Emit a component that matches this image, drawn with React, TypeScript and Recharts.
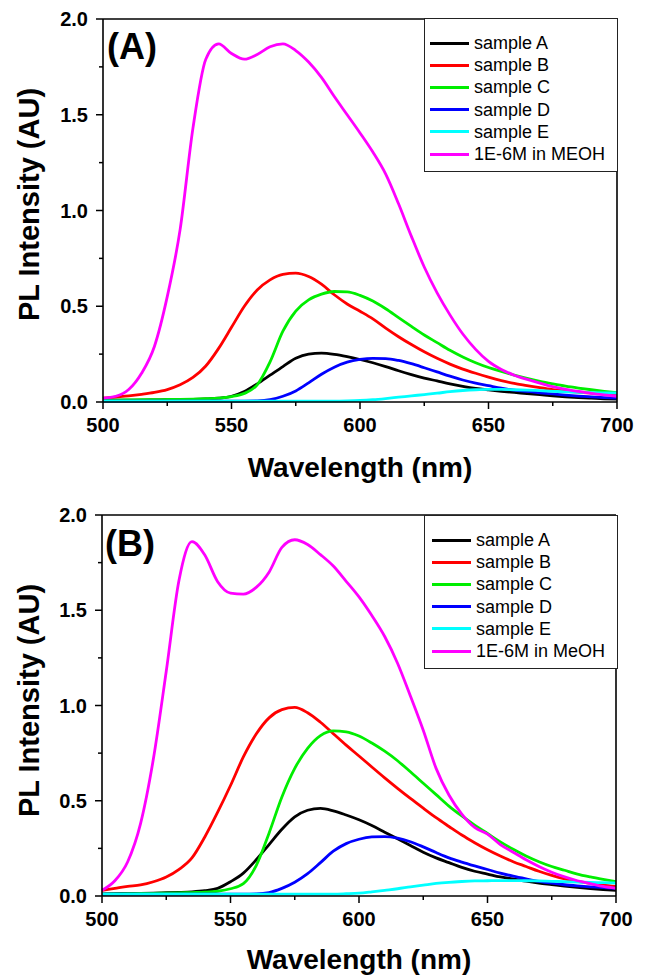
import React from 'react';
import { LineChart, Line, XAxis, YAxis, Legend } from 'recharts';

const FONT = '"Liberation Sans", Arial, Helvetica, sans-serif';
const TICK = 7;
const MINOR = 4;
const GAP = 8;

// wavelength grid (nm)
const wavelengths = [500, 505, 510, 515, 520, 525, 530, 535, 540, 545, 550, 555, 560, 565, 570, 575, 580, 585, 590, 595, 600, 605, 610, 615, 620, 625, 630, 635, 640, 645, 650, 655, 660, 665, 670, 675, 680, 685, 690, 695, 700];

// panel (A)
const aSampleA = [0.01, 0.01, 0.01, 0.01, 0.011, 0.012, 0.013, 0.014, 0.016, 0.02, 0.03, 0.055, 0.095, 0.14, 0.185, 0.228, 0.25, 0.255, 0.249, 0.237, 0.222, 0.205, 0.185, 0.163, 0.143, 0.125, 0.11, 0.095, 0.082, 0.071, 0.063, 0.056, 0.05, 0.044, 0.038, 0.032, 0.027, 0.023, 0.02, 0.017, 0.015];
const aSampleB = [0.02, 0.026, 0.032, 0.04, 0.05, 0.065, 0.09, 0.128, 0.188, 0.28, 0.39, 0.5, 0.585, 0.638, 0.667, 0.673, 0.655, 0.615, 0.56, 0.512, 0.474, 0.434, 0.386, 0.341, 0.3, 0.262, 0.228, 0.198, 0.172, 0.15, 0.13, 0.112, 0.097, 0.086, 0.075, 0.065, 0.057, 0.051, 0.046, 0.041, 0.037];
const aSampleC = [0.01, 0.01, 0.011, 0.012, 0.012, 0.013, 0.014, 0.015, 0.017, 0.02, 0.028, 0.045, 0.09, 0.21, 0.37, 0.475, 0.533, 0.563, 0.577, 0.575, 0.557, 0.527, 0.487, 0.441, 0.395, 0.35, 0.31, 0.27, 0.235, 0.205, 0.18, 0.16, 0.14, 0.123, 0.108, 0.095, 0.083, 0.073, 0.064, 0.056, 0.049];
const aSampleD = [0.005, 0.005, 0.005, 0.005, 0.005, 0.005, 0.005, 0.005, 0.005, 0.005, 0.005, 0.005, 0.006, 0.012, 0.03, 0.058, 0.1, 0.145, 0.182, 0.208, 0.222, 0.228, 0.227, 0.217, 0.2, 0.179, 0.157, 0.135, 0.115, 0.098, 0.085, 0.072, 0.062, 0.055, 0.048, 0.042, 0.036, 0.031, 0.027, 0.023, 0.02];
const aSampleE = [0.005, 0.005, 0.005, 0.005, 0.005, 0.005, 0.005, 0.005, 0.005, 0.005, 0.005, 0.005, 0.005, 0.005, 0.005, 0.005, 0.005, 0.005, 0.005, 0.006, 0.008, 0.012, 0.018, 0.025, 0.032, 0.039, 0.046, 0.054, 0.06, 0.064, 0.066, 0.066, 0.064, 0.062, 0.059, 0.056, 0.053, 0.051, 0.049, 0.048, 0.047];
const aMeoh = [0.02, 0.03, 0.065, 0.15, 0.29, 0.55, 0.9, 1.43, 1.79, 1.87, 1.82, 1.79, 1.815, 1.855, 1.87, 1.835, 1.775, 1.695, 1.595, 1.5, 1.405, 1.305, 1.19, 1.035, 0.865, 0.705, 0.57, 0.455, 0.355, 0.275, 0.212, 0.17, 0.14, 0.118, 0.099, 0.08, 0.066, 0.055, 0.045, 0.037, 0.03];

// panel (B)
const bSampleA = [0.01, 0.012, 0.013, 0.014, 0.015, 0.017, 0.019, 0.022, 0.028, 0.04, 0.075, 0.12, 0.19, 0.27, 0.35, 0.415, 0.45, 0.46, 0.447, 0.425, 0.4, 0.37, 0.335, 0.3, 0.265, 0.23, 0.2, 0.175, 0.15, 0.13, 0.115, 0.1, 0.09, 0.078, 0.068, 0.06, 0.052, 0.045, 0.039, 0.034, 0.03];
const bSampleB = [0.03, 0.04, 0.05, 0.058, 0.075, 0.1, 0.14, 0.2, 0.31, 0.44, 0.58, 0.73, 0.85, 0.935, 0.978, 0.99, 0.962, 0.912, 0.852, 0.792, 0.735, 0.677, 0.62, 0.565, 0.512, 0.461, 0.411, 0.365, 0.32, 0.28, 0.243, 0.21, 0.18, 0.155, 0.13, 0.108, 0.09, 0.077, 0.066, 0.057, 0.05];
const bSampleC = [0.01, 0.011, 0.012, 0.013, 0.014, 0.015, 0.016, 0.018, 0.02, 0.025, 0.038, 0.065, 0.16, 0.33, 0.52, 0.67, 0.775, 0.842, 0.867, 0.862, 0.84, 0.803, 0.76, 0.71, 0.652, 0.592, 0.532, 0.472, 0.42, 0.372, 0.328, 0.284, 0.245, 0.21, 0.18, 0.155, 0.135, 0.115, 0.1, 0.087, 0.075];
const bSampleD = [0.01, 0.01, 0.01, 0.01, 0.01, 0.01, 0.01, 0.01, 0.01, 0.01, 0.01, 0.01, 0.011, 0.018, 0.04, 0.072, 0.117, 0.175, 0.235, 0.275, 0.298, 0.31, 0.312, 0.304, 0.285, 0.258, 0.228, 0.2, 0.178, 0.158, 0.139, 0.12, 0.104, 0.09, 0.077, 0.067, 0.059, 0.053, 0.048, 0.044, 0.04];
const bSampleE = [0.01, 0.01, 0.01, 0.01, 0.01, 0.01, 0.01, 0.01, 0.01, 0.01, 0.01, 0.01, 0.01, 0.01, 0.01, 0.01, 0.01, 0.01, 0.01, 0.012, 0.015, 0.022, 0.03, 0.038, 0.048, 0.057, 0.066, 0.072, 0.076, 0.079, 0.08, 0.081, 0.081, 0.08, 0.079, 0.077, 0.075, 0.073, 0.071, 0.07, 0.068];
const bMeoh = [0.03, 0.08, 0.18, 0.38, 0.72, 1.18, 1.66, 1.86, 1.79, 1.65, 1.59, 1.585, 1.62, 1.7, 1.83, 1.87, 1.845, 1.792, 1.732, 1.652, 1.57, 1.472, 1.362, 1.222, 1.05, 0.87, 0.67, 0.53, 0.43, 0.36, 0.325, 0.27, 0.23, 0.19, 0.155, 0.125, 0.1, 0.08, 0.065, 0.05, 0.04];

const seriesKeys = ['sA', 'sB', 'sC', 'sD', 'sE', 'meoh'];
const seriesColors = ['#000000', '#ff0000', '#00ee00', '#0000ff', '#00ffff', '#ff00ff'];
const namesA = ['sample A', 'sample B', 'sample C', 'sample D', 'sample E', '1E-6M in MEOH'];
const namesB = ['sample A', 'sample B', 'sample C', 'sample D', 'sample E', '1E-6M in MeOH'];

const xTicks = [500, 525, 550, 575, 600, 625, 650, 675, 700];
const yTicks = [0, 0.25, 0.5, 0.75, 1, 1.25, 1.5, 1.75, 2];

const buildRows = (cols: number[][]) =>
  wavelengths.map((wl, i) => {
    const row: Record<string, number> = { wl };
    seriesKeys.forEach((k, j) => { row[k] = cols[j][i]; });
    return row;
  });

const dataA = buildRows([aSampleA, aSampleB, aSampleC, aSampleD, aSampleE, aMeoh]);
const dataB = buildRows([bSampleA, bSampleB, bSampleC, bSampleD, bSampleE, bMeoh]);

const XTick = (p: any) => {
  const { x, y, payload } = p;
  const v = payload.value;
  const major = v % 50 === 0;
  const ay = y - TICK - GAP;
  return (
    <g>
      <line x1={x} x2={x} y1={ay} y2={ay + (major ? TICK : MINOR)} stroke="#000" strokeWidth={1.5} />
      {major && (
        <text x={x} y={y + 15} textAnchor="middle" fontFamily={FONT} fontWeight="bold" fontSize={20} fill="#000">
          {v}
        </text>
      )}
    </g>
  );
};

const YTick = (p: any) => {
  const { x, y, payload } = p;
  const v = payload.value;
  const major = Math.abs(v * 2 - Math.round(v * 2)) < 1e-6;
  const ax = x + TICK + GAP;
  return (
    <g>
      <line x1={ax - (major ? TICK : MINOR)} x2={ax} y1={y} y2={y} stroke="#000" strokeWidth={1.5} />
      {major && (
        <text x={x} y={y + 7} textAnchor="end" fontFamily={FONT} fontWeight="bold" fontSize={20} fill="#000">
          {v.toFixed(1)}
        </text>
      )}
    </g>
  );
};

const XTitle = (p: any) => {
  const { viewBox, base } = p;
  return (
    <text x={viewBox.x + viewBox.width / 2} y={viewBox.y + base} textAnchor="middle" fontFamily={FONT} fontWeight="bold" fontSize={28} fill="#000">
      Wavelength (nm)
    </text>
  );
};

const YTitle = (p: any) => {
  const { viewBox, shift } = p;
  const cx = viewBox.x + 29;
  const cy = viewBox.y + viewBox.height / 2 + shift;
  return (
    <text x={cx} y={cy} transform={`rotate(-90 ${cx} ${cy})`} textAnchor="middle" dominantBaseline="central" fontFamily={FONT} fontWeight="bold" fontSize={29} fill="#000">
      PL Intensity (AU)
    </text>
  );
};

const LegendBox = (p: any) => {
  const { payload = [], names, padLeft } = p;
  const items = [...payload].sort((a: any, b: any) => names.indexOf(a.value) - names.indexOf(b.value));
  return (
    <div style={{ width: 194, height: 154, boxSizing: 'border-box', border: '1px solid #222', background: '#fff', paddingTop: 13, paddingLeft: padLeft, fontFamily: FONT, fontSize: 18, color: '#000' }}>
      {items.map((item: any) => (
        <div key={item.value} style={{ display: 'flex', alignItems: 'center', height: 22.2 }}>
          <span style={{ display: 'inline-block', width: 39, height: 3, background: item.color, marginRight: 5 }} />
          <span style={{ lineHeight: '18px' }}>{item.value}</span>
        </div>
      ))}
    </div>
  );
};

const axisStroke = { stroke: '#000', strokeWidth: 1.6 };

type PanelProps = {
  data: Record<string, number>[];
  names: string[];
  tag: string;
  margin: { top: number; right: number; left: number; bottom: number };
  yWidth: number;
  xHeight: number;
  titleBase: number;
  titleShift: number;
  legendTop: number;
  legendPad: number;
  tagTop: number;
  tagLeft: number;
};

const Panel = (pp: PanelProps) => (
  <div style={{ position: 'relative', width: 648, height: 488 }}>
    <LineChart width={648} height={488} data={pp.data} margin={pp.margin} style={{ fontFamily: FONT }}>
      <XAxis
        dataKey="wl"
        type="number"
        domain={[500, 700]}
        ticks={xTicks}
        interval={0}
        height={pp.xHeight}
        tickSize={TICK}
        tickMargin={GAP}
        tickLine={false}
        axisLine={axisStroke}
        tick={<XTick />}
        label={<XTitle base={pp.titleBase} />}
      />
      <XAxis
        xAxisId="top"
        dataKey="wl"
        type="number"
        orientation="top"
        mirror
        domain={[500, 700]}
        ticks={xTicks}
        interval={0}
        tickSize={5}
        tick={false}
        tickLine={axisStroke}
        axisLine={axisStroke}
      />
      <YAxis
        type="number"
        domain={[0, 2]}
        ticks={yTicks}
        interval={0}
        width={pp.yWidth}
        tickSize={TICK}
        tickMargin={GAP}
        tickLine={false}
        axisLine={axisStroke}
        tick={<YTick />}
        label={<YTitle shift={pp.titleShift} />}
      />
      <YAxis
        yAxisId="right"
        type="number"
        orientation="right"
        mirror
        domain={[0, 2]}
        ticks={yTicks}
        interval={0}
        tickSize={5}
        tick={false}
        tickLine={axisStroke}
        axisLine={axisStroke}
      />
      <Legend
        layout="vertical"
        align="center"
        verticalAlign="middle"
        wrapperStyle={{ left: 424, top: pp.legendTop }}
        content={(lp: any) => <LegendBox {...lp} names={pp.names} padLeft={pp.legendPad} />}
      />
      {seriesKeys.map((k, j) => (
        <Line
          key={k}
          type="monotone"
          dataKey={k}
          name={pp.names[j]}
          stroke={seriesColors[j]}
          strokeWidth={2.8}
          dot={false}
          activeDot={false}
          isAnimationActive={false}
        />
      ))}
    </LineChart>
    <div style={{ position: 'absolute', left: pp.tagLeft, top: pp.tagTop, fontFamily: FONT, fontWeight: 'bold', fontSize: 36, lineHeight: '36px', color: '#000' }}>
      {pp.tag}
    </div>
  </div>
);

export default function App() {
  return (
    <div style={{ position: 'absolute', left: 0, top: 0, width: 648, height: 976, background: '#fff' }}>
      <Panel
        data={dataA}
        names={namesA}
        tag="(A)"
        margin={{ top: 19, right: 31, left: 0, bottom: 0 }}
        yWidth={103}
        xHeight={86}
        titleBase={75}
        titleShift={-6}
        legendTop={18}
        legendPad={5}
        tagTop={29}
        tagLeft={107}
      />
      <Panel
        data={dataB}
        names={namesB}
        tag="(B)"
        margin={{ top: 27, right: 32, left: 0, bottom: 0 }}
        yWidth={102}
        xHeight={80}
        titleBase={73}
        titleShift={-5}
        legendTop={27}
        legendPad={7}
        tagTop={38}
        tagLeft={105}
      />
    </div>
  );
}
